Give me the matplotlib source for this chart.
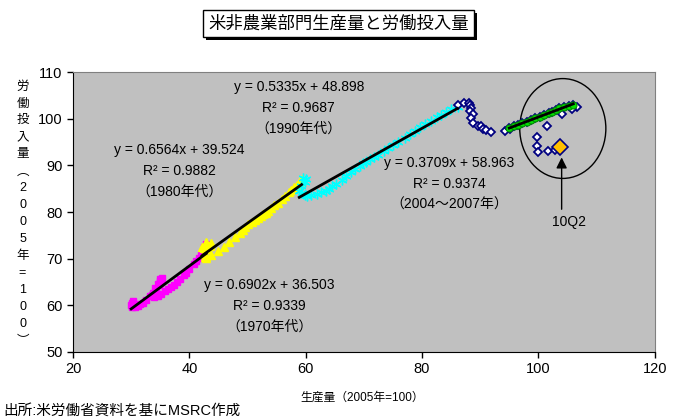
import numpy as np
import matplotlib
matplotlib.use("Agg")
import matplotlib.pyplot as plt
from matplotlib.patches import Ellipse, Rectangle

plt.rcParams['font.family'] = ['Liberation Sans', 'Noto Sans CJK JP', 'DejaVu Sans']

# 1970年代 (マゼンタ)
x70 = [30.3, 30.1, 30.0, 30.2, 30.7, 31.2, 31.6, 32.0, 32.6, 33.2, 33.7, 34.2,
       34.8, 35.0, 35.2, 35.3, 35.0, 34.9, 34.6, 34.1, 33.6, 33.9, 34.6, 35.2,
       35.9, 36.3, 36.8, 37.3, 37.8, 38.4, 39.0, 39.4, 40.0, 40.8, 41.2, 41.6,
       42.0, 42.3, 42.6, 42.9]
y70 = [61.0, 60.5, 60.0, 59.6, 59.7, 59.9, 60.2, 60.5, 61.2, 61.9, 62.6, 63.3,
       64.3, 64.8, 65.3, 65.8, 65.6, 65.2, 64.6, 63.8, 62.3, 61.8, 62.0, 62.4,
       63.0, 63.4, 63.9, 64.4, 64.9, 65.6, 66.4, 67.0, 67.8, 68.8, 69.5, 70.2,
       70.8, 71.6, 72.4, 73.2]

# 1980年代 (黄)
x80 = [42.8, 42.2, 42.5, 43.2, 43.8, 43.5, 43.6, 43.0, 42.6, 42.8, 42.7, 42.9,
       43.8, 44.9, 46.0, 46.9, 47.9, 48.7, 49.2, 49.6, 50.1, 50.7, 51.3, 51.8,
       52.4, 52.7, 53.1, 53.6, 54.0, 54.6, 55.3, 56.0, 56.5, 57.1, 57.5, 58.0,
       58.5, 58.8, 59.1, 59.3]
y80 = [73.5, 72.6, 72.3, 72.8, 73.4, 73.0, 72.8, 72.0, 71.0, 70.6, 70.4, 70.2,
       70.8, 71.6, 72.6, 73.5, 74.6, 75.6, 76.2, 76.8, 77.5, 77.8, 78.3, 78.7,
       79.2, 79.5, 79.8, 80.2, 80.8, 81.4, 82.0, 82.8, 83.5, 84.2, 84.8, 85.3,
       85.8, 86.3, 86.7, 87.0]

# 1990年代 (シアン)
x90 = [59.6, 60.0, 59.8, 59.2, 58.9, 59.3, 59.8, 60.2, 61.0, 61.9, 62.7, 63.5,
       64.0, 64.6, 65.2, 66.2, 66.9, 67.8, 68.5, 69.4, 69.8, 70.3, 71.0, 71.7,
       72.4, 73.5, 74.2, 75.0, 75.8, 77.0, 78.0, 78.8, 79.6, 80.5, 81.6, 82.6,
       83.3, 84.1, 85.0, 86.1]
y90 = [87.3, 87.0, 86.5, 85.6, 84.6, 84.0, 83.7, 83.5, 83.6, 83.8, 84.2, 84.5,
       84.9, 85.6, 86.1, 86.9, 87.7, 88.5, 89.2, 89.9, 90.4, 90.8, 91.3, 91.7,
       92.3, 93.0, 93.7, 94.3, 95.0, 95.9, 96.7, 97.3, 98.2, 98.9, 99.6, 100.3,
       100.8, 101.4, 102.0, 102.6]

# 2000～2003年
x00 = [86.2, 87.3, 88.0, 88.2, 88.4, 88.2, 88.7, 88.4, 88.7, 89.6, 90.2, 90.5,
       91.0, 91.9, 94.2, 95.1]
y00 = [102.9, 103.3, 103.3, 102.9, 102.2, 101.7, 101.1, 100.1, 99.0, 98.4, 98.4, 97.9,
       97.6, 97.2, 97.4, 97.9]

# 2004～2007年 (緑)
x04 = [95.0, 95.8, 96.5, 97.2, 98.0, 98.8, 99.5, 100.2, 101.0, 101.8, 102.4, 103.0,
       103.6, 104.4, 105.2, 106.0]
y04 = [98.1, 98.4, 98.6, 99.0, 99.4, 99.7, 100.1, 100.4, 100.8, 101.2, 101.5, 101.9,
       102.2, 102.5, 102.8, 103.0]

# 2008年～2010Q1
x08 = [106.6, 105.7, 104.0, 101.4, 99.7, 99.8, 100.0, 101.7, 102.8]
y08 = [102.6, 102.0, 101.1, 98.4, 96.1, 94.2, 92.8, 93.0, 93.2]

# 10Q2
x10q2 = [103.7]
y10q2 = [94.0]

eq_texts = [
    ("y = 0.6902x + 36.503", "R² = 0.9339", "（1970年代）"),
    ("y = 0.6564x + 39.524", "R² = 0.9882", "（1980年代）"),
    ("y = 0.5335x + 48.898", "R² = 0.9687", "（1990年代）"),
    ("y = 0.3709x + 58.963", "R² = 0.9374", "（2004～2007年）"),
]
eq_pos = [(53.8, 64.4), (38.3, 93.3), (58.8, 106.8), (84.7, 90.5)]

fig = plt.figure(figsize=(6.82, 4.19), dpi=100)
ax = fig.add_axes([0.107, 0.160, 0.853, 0.668])
ax.set_facecolor('#C0C0C0')

ax.plot(x70, y70, 's', color='magenta', ms=4.5, mec='magenta', zorder=3)
ax.plot(x80, y80, '^', color='yellow', ms=6, mec='yellow', zorder=3)
ax.plot(x90, y90, ls='none', marker=(6, 2, 0), color='cyan', ms=7, mew=1.0, zorder=3)
xd = x00 + x04 + x08
yd = y00 + y04 + y08
ax.plot(xd, yd, 'D', mfc='white', mec='#000080', ms=4.5, mew=1.3, zorder=3)
ax.plot(x04, y04, 'o', color='#00E000', mec='#009000', ms=5, mew=0.8, zorder=4)
ax.plot(x10q2, y10q2, 'D', mfc='#FFC000', mec='#000080', ms=8, mew=1.2, zorder=5)

# 近似直線
for xs, ys in [(x70, y70), (x80, y80), (x90, y90), (x04, y04)]:
    k, b = np.polyfit(xs, ys, 1)
    xx = np.array([min(xs), max(xs)])
    ax.plot(xx, k * xx + b, color='black', lw=2, zorder=6)

for (t1, t2, t3), (px, py) in zip(eq_texts, eq_pos):
    ax.text(px, py, t1, ha='center', va='center', fontsize=10, zorder=7)
    ax.text(px, py - 4.5, t2, ha='center', va='center', fontsize=10, zorder=7)
    ax.text(px, py - 9.0, t3, ha='center', va='center', fontsize=10, zorder=7)

ax.add_patch(Ellipse((104.2, 97.9), 14.8, 21.4, fill=False, ec='black', lw=1, zorder=2))
ax.annotate('', xy=(104.0, 92.3), xytext=(104.0, 80.0),
            arrowprops=dict(arrowstyle='-|>', color='black', lw=1,
                            mutation_scale=16), zorder=7)
ax.text(105.3, 77.9, '10Q2', ha='center', va='center', fontsize=10)

ax.set_xlim(20, 120)
ax.set_ylim(50, 110)
ax.set_xticks(range(20, 121, 20))
ax.set_yticks(range(50, 111, 10))
ax.tick_params(labelsize=10.5, direction='out', length=4, width=1)
for s in ['top', 'right']:
    ax.spines[s].set_color('#808080')
for s in ['left', 'bottom']:
    ax.spines[s].set_color('black')

# タイトル (影付きの枠)
t = fig.text(0.497, 0.944, '米非農業部門生産量と労働投入量', ha='center', va='center',
             fontsize=12.5, zorder=5,
             bbox=dict(boxstyle='square,pad=0.3', fc='white', ec='black', lw=1))
fig.canvas.draw()
bb = t.get_bbox_patch().get_window_extent()
fig.add_artist(Rectangle((bb.x0 + 3, bb.y0 - 3), bb.width, bb.height,
                         transform=None, fc='black', ec='none', zorder=1))

ylab = list('労働投入量') + ['︵'] + list('2005年=100') + ['︶']
fig.text(0.033, 0.49, '\n'.join(ylab), ha='center', va='center', fontsize=9,
         linespacing=1.55)
fig.text(0.531, 0.050, '生産量（2005年=100）', ha='center', va='center', fontsize=8.5)
fig.text(0.005, 0.019, '出所:米労働省資料を基にMSRC作成', ha='left', va='center', fontsize=10.5)

fig.savefig('out.png', dpi=100)
